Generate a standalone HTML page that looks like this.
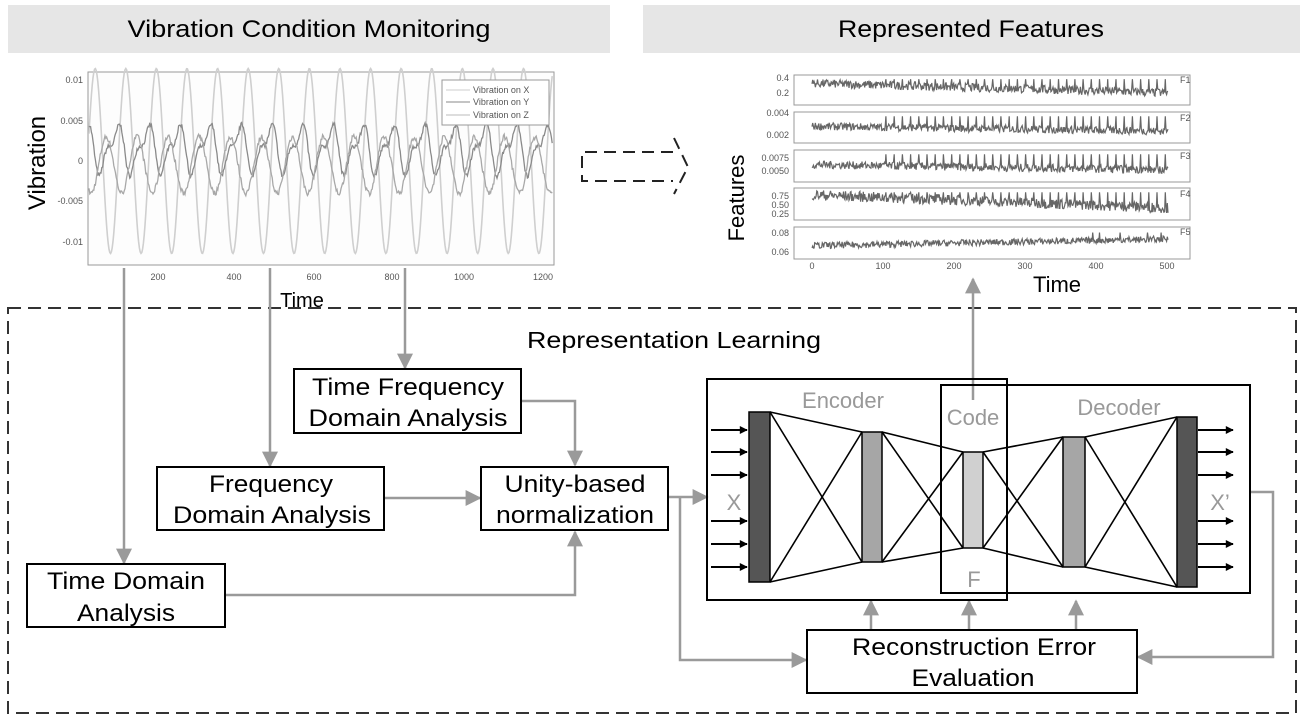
<!DOCTYPE html>
<html><head><meta charset="utf-8"><style>
body{margin:0;background:#fff}
svg text{font-family:"Liberation Sans",sans-serif}
</style></head><body>
<svg id="s" width="1305" height="722" viewBox="0 0 1305 722" xmlns="http://www.w3.org/2000/svg">
<defs>
<marker id="ga" viewBox="0 0 10 10" refX="9" refY="5" markerWidth="6" markerHeight="6" markerUnits="userSpaceOnUse" orient="auto"><path d="M0,0L10,5L0,10z" fill="#999"/></marker>
<marker id="gb" viewBox="0 0 10 10" refX="9" refY="5" markerWidth="18" markerHeight="16" markerUnits="userSpaceOnUse" orient="auto"><path d="M0,0L10,5L0,10z" fill="#9a9a9a"/></marker>
<marker id="ka" viewBox="0 0 10 10" refX="9" refY="5" markerWidth="9" markerHeight="8" markerUnits="userSpaceOnUse" orient="auto"><path d="M0,0L10,5L0,10z" fill="#000"/></marker>
</defs>
<!-- headers -->
<rect x="8" y="5" width="602" height="48" fill="#e6e6e6"/>
<rect x="643" y="5" width="657" height="48" fill="#e6e6e6"/>
<text x="309" y="37" font-size="24" text-anchor="middle" textLength="363" lengthAdjust="spacingAndGlyphs">Vibration Condition  Monitoring</text>
<text x="971" y="37" font-size="24" text-anchor="middle" textLength="266" lengthAdjust="spacingAndGlyphs">Represented Features</text>

<!-- vibration plot -->
<rect x="88" y="72" width="466" height="193" fill="#fdfdfd" stroke="#999" stroke-width="1"/>
<g id="vib"></g>
<rect x="442" y="80" width="107" height="45" fill="#fff" stroke="#999" stroke-width="1"/>
<g font-size="9" fill="#555">
<line x1="446" y1="90" x2="470" y2="90" stroke="#ccc"/><text x="473" y="93">Vibration on X</text>
<line x1="446" y1="102" x2="470" y2="102" stroke="#888"/><text x="473" y="105">Vibration on Y</text>
<line x1="446" y1="115" x2="470" y2="115" stroke="#bbb"/><text x="473" y="118">Vibration on Z</text>
<text x="83" y="83" text-anchor="end">0.01</text>
<text x="83" y="124" text-anchor="end">0.005</text>
<text x="83" y="164" text-anchor="end">0</text>
<text x="83" y="204" text-anchor="end">-0.005</text>
<text x="83" y="245" text-anchor="end">-0.01</text>
<text x="158" y="280" text-anchor="middle">200</text>
<text x="234" y="280" text-anchor="middle">400</text>
<text x="314" y="280" text-anchor="middle">600</text>
<text x="392" y="280" text-anchor="middle">800</text>
<text x="464" y="280" text-anchor="middle">1000</text>
<text x="543" y="280" text-anchor="middle">1200</text>
</g>
<text transform="translate(45,163) rotate(-90)" font-size="24" text-anchor="middle">Vibration</text>
<text x="302" y="307" font-size="20" text-anchor="middle">Time</text>

<!-- dashed arrow -->
<path d="M673,152 L582,152 L582,181 L673,181 M674,138 L688,167 L674,194" fill="none" stroke="#222" stroke-width="2" stroke-dasharray="12,7"/>

<!-- features plot -->
<g id="feat"></g>
<g font-size="9" fill="#555">
<text x="789" y="81" text-anchor="end">0.4</text><text x="789" y="96" text-anchor="end">0.2</text>
<text x="789" y="116" text-anchor="end">0.004</text><text x="789" y="138" text-anchor="end">0.002</text>
<text x="789" y="161" text-anchor="end">0.0075</text><text x="789" y="174" text-anchor="end">0.0050</text>
<text x="789" y="199" text-anchor="end">0.75</text><text x="789" y="208" text-anchor="end">0.50</text><text x="789" y="217" text-anchor="end">0.25</text>
<text x="789" y="236" text-anchor="end">0.08</text><text x="789" y="255" text-anchor="end">0.06</text>
<text x="812" y="269" text-anchor="middle">0</text><text x="883" y="269" text-anchor="middle">100</text><text x="954" y="269" text-anchor="middle">200</text><text x="1025" y="269" text-anchor="middle">300</text><text x="1096" y="269" text-anchor="middle">400</text><text x="1167" y="269" text-anchor="middle">500</text>
<text x="1180" y="83">F1</text><text x="1180" y="121">F2</text><text x="1180" y="159">F3</text><text x="1180" y="197">F4</text><text x="1180" y="235">F5</text>
</g>
<text transform="translate(744,198) rotate(-90)" font-size="22" text-anchor="middle">Features</text>
<text x="1057" y="292" font-size="22" text-anchor="middle">Time</text>

<!-- outer dashed -->
<rect x="8" y="308" width="1288" height="405" fill="none" stroke="#333" stroke-width="2" stroke-dasharray="13,7"/>
<text x="527" y="348" font-size="23" textLength="294" lengthAdjust="spacingAndGlyphs">Representation Learning</text>

<!-- gray connectors -->
<g stroke="#9a9a9a" stroke-width="2.5" fill="none">
<line x1="124" y1="268" x2="124" y2="563" marker-end="url(#gb)"/>
<line x1="270" y1="268" x2="270" y2="466" marker-end="url(#gb)"/>
<line x1="405" y1="268" x2="405" y2="368" marker-end="url(#gb)"/>
<polyline points="521,401 575,401 575,465" marker-end="url(#gb)"/>
<line x1="384" y1="498" x2="480" y2="498" marker-end="url(#gb)"/>
<polyline points="225,595 575,595 575,532" marker-end="url(#gb)"/>
<line x1="668" y1="497" x2="707" y2="497" marker-end="url(#gb)"/>
<polyline points="680,497 680,660 806,660" marker-end="url(#gb)"/>
<polyline points="1250,492 1273,492 1273,657 1138,657" marker-end="url(#gb)"/>
<line x1="871" y1="630" x2="871" y2="601" marker-end="url(#gb)"/>
<line x1="969" y1="630" x2="969" y2="601" marker-end="url(#gb)"/>
<line x1="1076" y1="630" x2="1076" y2="601" marker-end="url(#gb)"/>
<line x1="973" y1="400" x2="973" y2="279" marker-end="url(#gb)"/>
</g>

<!-- boxes -->
<g fill="#fff" stroke="#000" stroke-width="2">
<rect x="294" y="369" width="227" height="64"/>
<rect x="157" y="467" width="227" height="63"/>
<rect x="481" y="467" width="187" height="63"/>
<rect x="27" y="564" width="198" height="63"/>
<rect x="807" y="630" width="330" height="63"/>
</g>
<g font-size="24" text-anchor="middle">
<text x="408" y="395" textLength="192" lengthAdjust="spacingAndGlyphs">Time Frequency</text>
<text x="408" y="426" textLength="199" lengthAdjust="spacingAndGlyphs">Domain Analysis</text>
<text x="271" y="492" textLength="124" lengthAdjust="spacingAndGlyphs">Frequency</text>
<text x="272" y="523" textLength="198" lengthAdjust="spacingAndGlyphs">Domain Analysis</text>
<text x="575" y="492" textLength="141" lengthAdjust="spacingAndGlyphs">Unity-based</text>
<text x="575" y="523" textLength="158" lengthAdjust="spacingAndGlyphs">normalization</text>
<text x="126" y="589" textLength="158" lengthAdjust="spacingAndGlyphs">Time Domain</text>
<text x="126" y="621" textLength="98" lengthAdjust="spacingAndGlyphs">Analysis</text>
<text x="974" y="655" textLength="244" lengthAdjust="spacingAndGlyphs">Reconstruction Error</text>
<text x="973" y="686" textLength="123" lengthAdjust="spacingAndGlyphs">Evaluation</text>
</g>

<!-- autoencoder -->
<rect x="707" y="379" width="300" height="221" fill="none" stroke="#000" stroke-width="2"/>
<rect x="941" y="385" width="309" height="208" fill="none" stroke="#000" stroke-width="2"/>
<g stroke="#000" stroke-width="1.6">
<line x1="770" y1="412" x2="862" y2="432"/><line x1="770" y1="582" x2="862" y2="562"/>
<line x1="770" y1="412" x2="862" y2="562"/><line x1="770" y1="582" x2="862" y2="432"/>
<line x1="882" y1="432" x2="963" y2="452"/><line x1="882" y1="562" x2="963" y2="548"/>
<line x1="882" y1="432" x2="963" y2="548"/><line x1="882" y1="562" x2="963" y2="452"/>
<line x1="983" y1="452" x2="1063" y2="437"/><line x1="983" y1="548" x2="1063" y2="567"/>
<line x1="983" y1="452" x2="1063" y2="567"/><line x1="983" y1="548" x2="1063" y2="437"/>
<line x1="1085" y1="437" x2="1177" y2="417"/><line x1="1085" y1="567" x2="1177" y2="587"/>
<line x1="1085" y1="437" x2="1177" y2="587"/><line x1="1085" y1="567" x2="1177" y2="417"/>
</g>
<g stroke="#000" stroke-width="1.5">
<rect x="749" y="412" width="21" height="170" fill="#555"/>
<rect x="862" y="432" width="20" height="130" fill="#a6a6a6"/>
<rect x="963" y="452" width="20" height="96" fill="#d0d0d0"/>
<rect x="1063" y="437" width="22" height="130" fill="#a6a6a6"/>
<rect x="1177" y="417" width="20" height="170" fill="#555"/>
</g>
<g stroke="#000" stroke-width="2">
<line x1="711" y1="430" x2="747" y2="430" marker-end="url(#ka)"/>
<line x1="711" y1="452" x2="747" y2="452" marker-end="url(#ka)"/>
<line x1="711" y1="475" x2="747" y2="475" marker-end="url(#ka)"/>
<line x1="711" y1="521" x2="747" y2="521" marker-end="url(#ka)"/>
<line x1="711" y1="544" x2="747" y2="544" marker-end="url(#ka)"/>
<line x1="711" y1="567" x2="747" y2="567" marker-end="url(#ka)"/>
<line x1="1198" y1="430" x2="1233" y2="430" marker-end="url(#ka)"/>
<line x1="1198" y1="452" x2="1233" y2="452" marker-end="url(#ka)"/>
<line x1="1198" y1="475" x2="1233" y2="475" marker-end="url(#ka)"/>
<line x1="1198" y1="521" x2="1233" y2="521" marker-end="url(#ka)"/>
<line x1="1198" y1="544" x2="1233" y2="544" marker-end="url(#ka)"/>
<line x1="1198" y1="567" x2="1233" y2="567" marker-end="url(#ka)"/>
</g>
<g font-size="22" fill="#999" text-anchor="middle">
<text x="843" y="408">Encoder</text>
<text x="973" y="425">Code</text>
<text x="1119" y="415">Decoder</text>
<text x="974" y="587">F</text>
<text x="734" y="510">X</text>
<text x="1220" y="510">X’</text>
</g>
</svg>
<script>
(function(){
var NS="http://www.w3.org/2000/svg";
function add(g,tag,attrs){var e=document.createElementNS(NS,tag);for(var k in attrs)e.setAttribute(k,attrs[k]);g.appendChild(e);return e;}
var seed=7;function rnd(){seed=(seed*16807)%2147483647;return seed/2147483647;}
var vib=document.getElementById('vib');
function vy(v){return 161-v*8040;}
var P=30.6;
var dz="",dx="",dy2="";
for(var x=89;x<=553;x+=0.8){
 var t=(x-89)/P*2*Math.PI;
 var z=0.0115*Math.sin(t+0.3);
 var a=0.0015+0.0025*Math.sin(t+2.2)+0.0012*Math.sin(2*t+1)+(rnd()-0.5)*0.0006;
 var b=-0.0005+0.0035*Math.sin(t+4.0+0.3*Math.sin(x/70))+(rnd()-0.5)*0.0007;
 dz+=(dz?"L":"M")+x.toFixed(1)+","+vy(z).toFixed(1);
 dx+=(dx?"L":"M")+x.toFixed(1)+","+vy(a).toFixed(1);
 dy2+=(dy2?"L":"M")+x.toFixed(1)+","+vy(b).toFixed(1);
}
add(vib,'path',{d:dz,fill:'none',stroke:'#cfcfcf','stroke-width':1.6});
add(vib,'path',{d:dx,fill:'none',stroke:'#8a8a8a','stroke-width':1.3});
add(vib,'path',{d:dy2,fill:'none',stroke:'#a8a8a8','stroke-width':1.3});
var f=document.getElementById('feat');
var panels=[[75,105,0.6,0.35,1],[112,143,0.65,0.3,0.8],[150,182,0.65,0.3,0.8],[188,220,0.8,0.4,0.9],[227,259,0.55,0.25,0.4]];
panels.forEach(function(p,i){
 add(f,'rect',{x:794,y:p[0],width:396,height:p[1]-p[0],fill:'#fff',stroke:'#999','stroke-width':1});
 var h=p[1]-p[0],d="";
 for(var k=0;k<=520;k++){
  var x=812+k*0.6846;
  var base;
  if(i==0)base=0.78-0.4*k/520;
  else if(i==3)base=0.85-0.5*k/520;
  else if(i==4)base=0.4+0.25*k/520;
  else base=0.55-0.2*k/520;
  var v=base+(rnd()-0.5)*p[3];
  if(k%12==0&&k>100&&i!=4)v=0.95;
  if(k%10==0&&i==4&&k>380&&rnd()<0.4)v=0.9;
  var y=p[1]-3-v*(h-6);
  d+=(d?"L":"M")+x.toFixed(1)+","+y.toFixed(1);
 }
 add(f,'path',{d:d,fill:'none',stroke:'#666','stroke-width':1.2});
});
})();
</script>
</body></html>
